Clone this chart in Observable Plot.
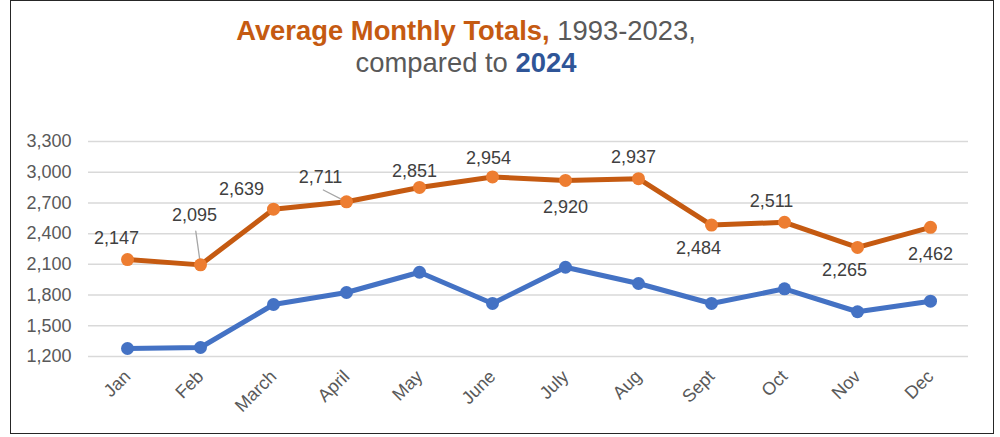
<!DOCTYPE html>
<html>
<head>
<meta charset="utf-8">
<script src="https://cdn.jsdelivr.net/npm/d3@7"></script>
<script src="https://cdn.jsdelivr.net/npm/@observablehq/plot@0.6"></script>
<style>
  html, body { margin: 0; padding: 0; background: #fff; }
  #wrap { position: relative; width: 1000px; height: 437px; overflow: hidden; }
  #frame { position: absolute; left: 10px; top: 0px; width: 982px; height: 432px; border: 1.6px solid #262626; box-sizing: content-box; pointer-events: none; }
  svg { font-family: "Liberation Sans", Arial, sans-serif; }
</style>
</head>
<body>
<div id="wrap"><div id="frame"></div></div>
<script>
const months = ["Jan","Feb","March","April","May","June","July","Aug","Sept","Oct","Nov","Dec"];
const avg19932023 = [2147, 2095, 2639, 2711, 2851, 2954, 2920, 2937, 2484, 2511, 2265, 2462];
const totals2024 = [1278, 1288, 1708, 1825, 2023, 1718, 2072, 1913, 1718, 1861, 1637, 1740];
const yTicks = [1200, 1500, 1800, 2100, 2400, 2700, 3000, 3300];

// label placement offsets (layout, px) for each orange data label
const labelDx = [-11, -6, -32, -26, -5, -4, 0, -5, -13, -13, -13, 0];
const labelDy = [-21, -50, -20, -25, -16, -19, 27, -21, 23, -21, 23, 27];
// leader lines: [index, length px, rotate deg]
const leaders = [[1, 34, -8], [3, 26, -63]];

const avgData = months.map((m, i) => ({month: m, value: avg19932023[i], i}));
const curData = months.map((m, i) => ({month: m, value: totals2024[i], i}));

const fmt = d3.format(",");
const labelMarks = avgData.map((d, i) =>
  Plot.text([d], {x: "month", y: "value", text: d => fmt(d.value), dx: labelDx[i], dy: labelDy[i],
    fill: "#404040", fontSize: 18, textAnchor: "middle"})
);

const leaderShape = {draw(context, l) { context.moveTo(0, 0); context.lineTo(0, -l); }};
const leaderMarks = leaders.map(([i, len, rot]) =>
  Plot.vector([avgData[i]], {x: "month", y: "value", length: len, rotate: rot, anchor: "start",
    stroke: "#a6a6a6", strokeWidth: 1.3, shape: leaderShape})
);

const chart = Plot.plot({
  width: 1000,
  height: 437,
  marginLeft: 88,
  marginRight: 32,
  marginTop: 141,
  marginBottom: 81,
  style: {fontFamily: "'Liberation Sans', Arial, sans-serif", background: "transparent"},
  x: {type: "point", domain: months, padding: 0.5, label: null},
  y: {domain: [1200, 3300], label: null},
  marks: [
    Plot.ruleY(yTicks, {stroke: "#d9d9d9", strokeWidth: 1.5}),
    Plot.axisY({ticks: yTicks, tickFormat: d => fmt(d), tickSize: 0, tickPadding: 17, fontSize: 18, color: "#595959", label: null}),
    Plot.axisX({tickSize: 0, tickPadding: 17, tickRotate: -45, fontSize: 18, color: "#595959", label: null}),
    ...leaderMarks,
    Plot.line(avgData, {x: "month", y: "value", stroke: "#C55A11", strokeWidth: 5}),
    Plot.line(curData, {x: "month", y: "value", stroke: "#4472C4", strokeWidth: 5}),
    Plot.dot(avgData, {x: "month", y: "value", r: 6.5, fill: "#ED7D31"}),
    Plot.dot(curData, {x: "month", y: "value", r: 6.5, fill: "#4472C4"}),
    ...labelMarks
  ]
});

const svg = d3.select(chart);
const t1 = svg.append("text").attr("x", 466).attr("y", 40).attr("text-anchor", "middle")
  .attr("font-size", 27.4).attr("font-family", "'Liberation Sans', Arial, sans-serif");
t1.append("tspan").attr("fill", "#C55A11").attr("font-weight", "bold").text("Average Monthly Totals,");
t1.append("tspan").attr("fill", "#595959").text(" 1993-2023,");
const t2 = svg.append("text").attr("x", 466).attr("y", 72).attr("text-anchor", "middle")
  .attr("font-size", 27.4).attr("font-family", "'Liberation Sans', Arial, sans-serif");
t2.append("tspan").attr("fill", "#595959").text("compared to ");
t2.append("tspan").attr("fill", "#2F5597").attr("font-weight", "bold").text("2024");

chart.style.position = "absolute";
chart.style.left = "0px";
chart.style.top = "0px";
document.getElementById("wrap").prepend(chart);
</script>
</body>
</html>
